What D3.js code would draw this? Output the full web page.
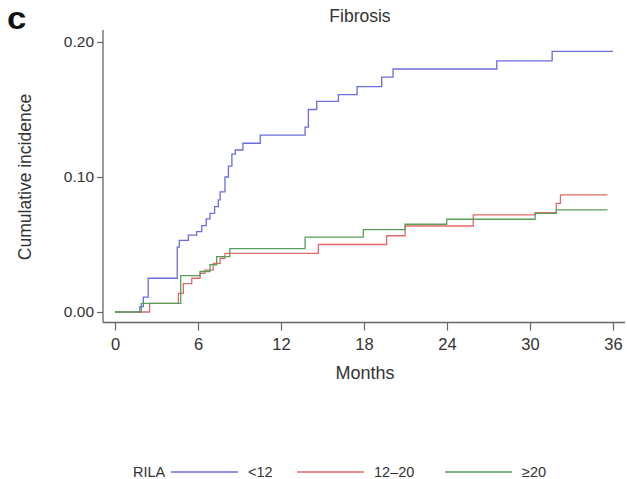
<!DOCTYPE html>
<html>
<head>
<meta charset="utf-8">
<script src="https://cdn.jsdelivr.net/npm/d3@7.9.0/dist/d3.min.js"></script>
<style>
  body { margin: 0; background: #fff; }
  svg { display: block; font-family: "Liberation Sans", Arial, sans-serif; }
</style>
</head>
<body>
<svg width="627" height="479"></svg>
<script>
// cumulative incidence step points: [month, value]
const groups = ['<12', '12\u201320', '\u226520'];
const colors = ['#6c6cde', '#e06a6a', '#5a9e5a'];

const lowRila = [
  [0, 0], [1.8, 0.004], [2.05, 0.011], [2.4, 0.025], [4.5, 0.048], [4.65, 0.053],
  [5.3, 0.057], [5.9, 0.0595], [6.27, 0.064], [6.6, 0.069], [6.87, 0.073],
  [7.2, 0.078], [7.47, 0.083], [7.6, 0.089], [7.95, 0.100], [8.2, 0.108],
  [8.45, 0.117], [8.7, 0.120], [9.25, 0.125], [10.5, 0.131], [13.74, 0.137],
  [13.98, 0.150], [14.58, 0.156], [16.15, 0.161], [17.5, 0.167], [19.28, 0.174],
  [20.1, 0.180], [27.6, 0.186], [31.6, 0.193], [36, 0.193]
];
const midRila = [
  [0, 0], [2.5, 0.0064], [4.58, 0.0138], [4.94, 0.021], [5.55, 0.025],
  [6.15, 0.0286], [6.5, 0.031], [7.1, 0.036], [7.6, 0.0398], [7.95, 0.0435],
  [14.7, 0.050], [19.64, 0.0565], [20.97, 0.0637], [25.9, 0.0719],
  [30.37, 0.0736], [31.9, 0.0805], [32.2, 0.0867], [35.6, 0.0867]
];
const highRila = [
  [0, 0], [1.9, 0.0064], [4.75, 0.027], [6.15, 0.030], [6.87, 0.035],
  [7.35, 0.041], [8.3, 0.047], [13.74, 0.0555], [17.95, 0.061], [20.97, 0.065],
  [23.98, 0.0687], [30.37, 0.073], [31.9, 0.0756], [35.6, 0.0756]
];
const series = [lowRila, midRila, highRila];

const xTicks = [0, 6, 12, 18, 24, 30, 36];
const yTicks = [0, 0.10, 0.20];

const svg = d3.select('svg');
const x = d3.scaleLinear().domain([0, 36]).range([115, 613]);
const y = d3.scaleLinear().domain([0, 0.2]).range([312, 42]);

const axisColor = '#666';
const textColor = '#333';

// axis lines (frame offset from data area, Stata style)
const yAxisX = x(0) - 12;
const xAxisY = y(0) + 10.5;
svg.append('line')
  .attr('x1', yAxisX).attr('x2', yAxisX)
  .attr('y1', y(0.2) - 12).attr('y2', xAxisY)
  .attr('stroke', axisColor).attr('stroke-width', 1.3);
svg.append('line')
  .attr('x1', yAxisX).attr('x2', x(36) + 12)
  .attr('y1', xAxisY).attr('y2', xAxisY)
  .attr('stroke', axisColor).attr('stroke-width', 1.3);

const yAxis = svg.append('g')
  .attr('transform', `translate(${yAxisX},0)`)
  .call(d3.axisLeft(y).tickValues(yTicks).tickFormat(d3.format('.2f')).tickSize(6).tickPadding(3));
yAxis.select('.domain').remove();
yAxis.selectAll('line').attr('stroke', axisColor).attr('stroke-width', 1.2);
yAxis.selectAll('text').attr('fill', textColor).style('font-size', '15.5px');

const xAxis = svg.append('g')
  .attr('transform', `translate(0,${xAxisY})`)
  .call(d3.axisBottom(x).tickValues(xTicks).tickSize(8).tickPadding(8));
xAxis.select('.domain').remove();
xAxis.selectAll('line').attr('stroke', axisColor).attr('stroke-width', 1.2);
xAxis.selectAll('text').attr('fill', textColor).style('font-size', '16.5px');

// curves
const line = d3.line()
  .x(d => x(d[0]))
  .y(d => y(d[1]))
  .curve(d3.curveStepAfter);

series.forEach((s, i) => {
  svg.append('path')
    .datum(s)
    .attr('d', line)
    .attr('fill', 'none')
    .attr('stroke', colors[i])
    .attr('stroke-width', 1.3);
});

// titles
svg.append('text')
  .attr('x', 360).attr('y', 22)
  .attr('text-anchor', 'middle')
  .attr('fill', textColor)
  .style('font-size', '17.5px')
  .text('Fibrosis');

svg.append('text')
  .attr('transform', 'translate(7,29) scale(1.2,1.1)')
  .attr('fill', '#111')
  .style('font-size', '29px')
  .style('font-weight', 'bold')
  .text('c');

svg.append('text')
  .attr('x', 365).attr('y', 379)
  .attr('text-anchor', 'middle')
  .attr('fill', textColor)
  .style('font-size', '18px')
  .text('Months');

svg.append('text')
  .attr('transform', `translate(31,${y(0.1)}) rotate(-90)`)
  .attr('text-anchor', 'middle')
  .attr('fill', textColor)
  .style('font-size', '17.5px')
  .text('Cumulative incidence');

// legend
const legY = 472;
svg.append('text')
  .attr('x', 133).attr('y', legY + 5)
  .attr('fill', textColor)
  .style('font-size', '14.5px')
  .text('RILA');

const legX = [171, 297, 445];
groups.forEach((g, i) => {
  svg.append('line')
    .attr('x1', legX[i]).attr('x2', legX[i] + 67)
    .attr('y1', legY).attr('y2', legY)
    .attr('stroke', colors[i]).attr('stroke-width', 1.3);
  svg.append('text')
    .attr('x', legX[i] + 77).attr('y', legY + 5)
    .attr('fill', textColor)
    .style('font-size', '14.5px')
    .text(g);
});
</script>
</body>
</html>
